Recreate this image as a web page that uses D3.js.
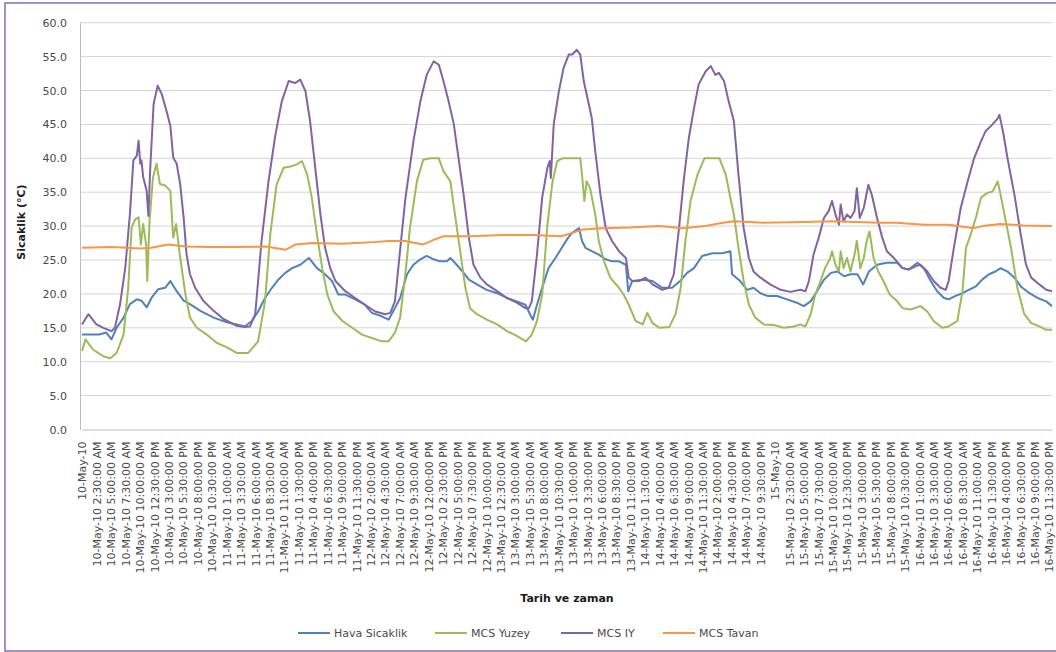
<!DOCTYPE html>
<html>
<head>
<meta charset="utf-8">
<script src="https://cdn.jsdelivr.net/npm/d3@7"></script>
<style>
  html, body { margin: 0; padding: 0; background: #ffffff; }
  svg { display: block; font-family: "DejaVu Sans", sans-serif; }
</style>
</head>
<body>
<svg id="chart" width="1056" height="652"></svg>
<script>
// Hours after 10-May-10 00:00, paired with temperature (°C)
const havaSicaklik = [
  [0,14.0],[1.5,14.0],[3.0,14.0],[4.2,14.3],[5.1,13.3],[6.0,15.0],[7.2,16.5],[8.3,18.5],[9.5,19.2],[10.3,19.0],
  [11.2,18.0],[12.1,19.5],[13.2,20.7],[14.4,20.9],[15.3,21.9],[16.4,20.4],[17.6,19.0],[18.7,18.5],[20.5,17.5],
  [22.8,16.5],[25.1,15.8],[26.8,15.5],[28.2,15.2],[29.4,16.0],[30.5,17.4],[31.7,19.4],[32.9,20.9],[34.0,22.1],
  [35.2,23.1],[36.4,23.8],[37.8,24.3],[39.3,25.3],[40.7,23.8],[42.1,22.9],[43.3,21.9],[44.4,19.9],[45.6,19.9],
  [47.3,19.2],[49.0,18.4],[50.2,17.2],[51.9,16.7],[53.1,16.2],[54.2,17.9],[55.1,19.4],[56.3,22.9],[57.4,24.3],
  [58.6,25.1],[59.7,25.6],[60.9,25.1],[62.0,24.8],[63.2,24.8],[63.8,25.3],[64.9,24.3],[66.1,23.1],[67.0,22.1],
  [68.4,21.4],[70.1,20.6],[71.9,20.1],[73.6,19.4],[75.3,18.9],[76.8,18.4],[77.6,17.0],[78.1,16.2],[78.8,18.4],
  [79.7,20.9],[80.8,23.8],[82.0,25.3],[83.1,26.8],[84.2,28.3],[84.9,29.0],[86.1,29.7],[86.6,27.8],[87.2,26.8],
  [88.3,26.3],[89.5,25.8],[90.7,25.1],[91.8,24.8],[93.0,24.8],[94.2,24.3],[94.6,20.4],[95.3,21.9],[97.1,22.1],
  [98.8,21.9],[100.5,20.9],[102.2,20.9],[103.6,21.9],[104.8,23.1],[106.0,23.8],[107.4,25.6],[109.2,26.0],
  [110.9,26.0],[112.3,26.3],[112.6,22.9],[114.0,21.9],[115.2,20.6],[116.3,20.9],[117.5,20.1],[118.7,19.7],
  [120.4,19.7],[122.1,19.2],[123.8,18.7],[125.0,18.2],[126.2,18.9],[127.3,20.4],[128.5,22.1],[129.7,23.1],
  [130.8,23.3],[132.0,22.6],[133.1,22.9],[134.3,22.9],[135.3,21.4],[136.3,23.3],[137.7,24.3],[139.4,24.6],
  [141.2,24.6],[142.1,23.8],[143.2,23.6],[144.7,24.6],[145.8,23.8],[147.0,21.9],[148.1,20.4],[149.3,19.4],
  [150.1,19.2],[151.3,19.7],[152.5,20.1],[153.6,20.6],[154.8,21.1],[155.9,22.1],[157.1,22.9],[158.2,23.3],
  [159.1,23.8],[160.3,23.3],[161.5,22.4],[162.6,21.1],[164.1,20.1],[165.5,19.4],[167.0,18.9],[168.0,18.2]
];

const mcsYuzey = [
  [0,11.6],[0.6,13.3],[1.9,11.8],[3.7,10.8],[4.9,10.5],[6.0,11.3],[7.2,14.0],[8.0,20.9],[8.6,29.8],[9.2,31.0],
  [9.8,31.3],[10.2,27.3],[10.6,30.3],[11.1,27.3],[11.3,21.9],[11.7,30.8],[12.3,37.2],[12.9,39.2],[13.5,36.2],
  [14.4,36.0],[15.3,35.2],[15.8,28.3],[16.3,30.3],[17.0,25.4],[17.9,20.0],[18.7,16.5],[19.9,15.0],[21.6,14.0],
  [23.3,12.8],[25.1,12.1],[26.8,11.3],[28.8,11.3],[30.5,13.0],[31.7,18.9],[32.6,28.7],[33.7,36.1],[34.9,38.6],
  [36.1,38.8],[37.2,39.1],[38.1,39.6],[39.0,37.6],[39.8,34.2],[40.7,28.7],[41.6,23.8],[42.5,19.9],[43.6,17.4],
  [45.1,16.0],[46.8,15.0],[48.5,14.0],[50.2,13.5],[51.9,13.0],[53.1,13.0],[54.2,14.3],[55.1,16.5],[56.0,22.9],
  [56.8,29.7],[58.0,36.6],[59.1,39.8],[60.3,40.0],[61.8,40.0],[62.6,38.1],[63.8,36.6],[64.6,31.7],[65.5,26.3],
  [66.4,20.9],[67.2,17.9],[68.4,17.0],[70.1,16.2],[71.9,15.5],[73.6,14.5],[75.3,13.8],[76.9,13.0],[77.9,14.0],
  [78.8,16.0],[79.7,19.9],[80.6,30.2],[81.5,36.6],[82.3,39.6],[83.2,40.0],[86.3,40.0],[86.6,37.6],[87.0,33.7],
  [87.4,36.6],[88.0,35.6],[88.9,31.7],[89.5,27.8],[90.4,24.8],[91.5,22.4],[93.0,20.9],[93.8,19.9],[94.7,18.4],
  [95.9,16.0],[97.1,15.5],[97.9,17.2],[98.8,15.7],[100.0,15.0],[101.7,15.1],[102.8,17.0],[103.7,20.9],
  [104.5,27.8],[105.4,33.7],[106.6,37.6],[107.8,40.0],[110.4,40.0],[111.5,37.6],[112.4,33.7],[112.9,31.7],
  [113.7,26.8],[114.6,21.9],[115.5,18.4],[116.6,16.5],[118.1,15.5],[119.8,15.4],[121.5,15.0],[123.3,15.2],
  [124.4,15.5],[125.3,15.2],[126.2,17.0],[127.0,19.9],[127.9,21.9],[128.7,23.8],[129.6,25.3],[129.9,26.3],
  [130.5,24.3],[131.1,23.3],[131.4,26.3],[131.9,23.8],[132.5,25.3],[133.1,23.3],[133.8,25.8],[134.2,27.8],
  [134.8,23.8],[135.4,25.3],[135.9,27.8],[136.4,29.2],[137.1,25.3],[137.9,23.3],[138.8,21.9],[139.9,19.9],
  [141.2,18.9],[142.1,17.9],[143.5,17.7],[145.2,18.2],[146.4,17.4],[147.5,16.0],[149.0,15.0],[150.1,15.2],
  [151.6,16.0],[152.5,20.4],[153.1,26.8],[153.9,28.7],[154.8,31.2],[155.7,34.2],[156.8,34.9],[157.7,35.1],
  [158.6,36.6],[159.1,34.6],[160.0,30.7],[160.9,26.8],[162.0,20.9],[163.2,17.0],[164.4,15.7],[165.8,15.2],
  [167.0,14.7],[168.0,14.7]
];

const mcsIY = [
  [0,15.5],[1.1,17.0],[2.5,15.5],[3.7,15.0],[5.1,14.5],[5.7,15.0],[6.6,18.5],[7.5,23.9],[8.3,31.8],[8.9,39.7],
  [9.5,40.4],[9.8,42.6],[10.1,39.2],[10.3,39.7],[10.6,37.2],[11.2,35.2],[11.5,31.5],[11.8,38.2],[12.4,48.0],
  [13.1,50.7],[13.8,49.5],[14.7,46.8],[15.3,44.8],[15.8,40.1],[16.4,39.2],[17.0,36.2],[17.6,31.3],[18.1,25.9],
  [18.7,22.9],[19.6,20.9],[21.0,19.0],[22.8,17.5],[24.5,16.3],[26.8,15.3],[28.2,15.1],[29.1,15.2],[30.0,17.0],
  [31.1,27.8],[32.3,36.6],[33.5,43.5],[34.6,48.4],[35.8,51.4],[36.9,51.1],[37.8,51.6],[38.7,49.9],[39.5,45.5],
  [40.4,38.6],[41.3,31.7],[42.1,26.8],[43.0,23.8],[43.9,21.9],[45.6,20.4],[47.3,19.4],[49.0,18.4],[50.8,17.4],
  [52.5,17.0],[53.4,17.2],[54.2,18.9],[55.1,26.5],[56.0,34.0],[57.4,42.5],[58.6,48.4],[59.7,52.3],[60.9,54.3],
  [61.8,53.8],[62.6,51.4],[63.5,48.4],[64.4,45.0],[65.2,40.1],[66.1,34.6],[67.0,28.3],[67.8,24.3],[69.0,22.4],
  [70.1,21.4],[71.9,20.4],[73.6,19.4],[75.3,18.7],[76.8,17.9],[77.4,17.9],[77.9,18.9],[78.8,25.8],[79.7,34.2],
  [80.6,38.6],[81.0,39.6],[81.2,37.1],[81.7,45.0],[82.6,49.9],[83.4,53.3],[84.3,55.3],[84.9,55.3],[85.7,56.0],
  [86.3,55.3],[86.9,51.4],[87.8,47.9],[88.3,45.9],[88.9,41.0],[89.8,34.6],[90.7,29.7],[91.8,27.8],[93.0,26.3],
  [94.2,25.3],[94.7,22.4],[95.3,21.9],[96.5,21.9],[97.6,22.4],[98.8,21.4],[100.5,20.6],[101.6,20.9],[102.5,22.9],
  [103.4,29.7],[104.2,36.6],[105.1,43.0],[106.0,47.4],[106.8,50.9],[108.0,52.8],[108.9,53.6],[109.7,52.3],
  [110.3,52.6],[111.2,51.4],[112.0,48.4],[112.9,45.5],[113.7,37.6],[114.6,29.7],[115.5,25.3],[116.3,23.3],
  [117.5,22.4],[119.2,21.4],[121.0,20.6],[122.7,20.3],[124.4,20.6],[125.3,20.4],[125.9,21.9],[126.7,25.8],
  [127.6,28.3],[128.5,31.2],[129.3,32.2],[129.9,33.7],[130.5,31.7],[131.1,30.2],[131.4,33.2],[131.9,30.7],
  [132.5,31.7],[133.1,31.2],[133.8,32.2],[134.2,35.6],[134.7,31.2],[135.4,32.7],[136.2,36.1],[136.8,34.6],
  [137.7,31.2],[138.6,28.3],[139.4,26.3],[140.6,25.3],[142.1,23.8],[143.2,23.6],[144.4,24.1],[145.2,24.3],
  [146.4,23.3],[147.5,21.9],[148.7,20.9],[149.6,20.6],[150.1,21.9],[151.0,26.8],[152.2,32.7],[153.4,36.6],
  [154.5,40.0],[155.7,42.5],[156.5,44.0],[157.7,45.0],[158.6,45.9],[158.9,46.4],[159.5,44.0],[160.3,40.0],
  [161.5,34.6],[162.6,28.7],[163.5,24.3],[164.4,22.4],[165.8,21.4],[167.0,20.6],[168.0,20.4]
];

const mcsTavan = [
  [0,26.8],[5,26.9],[10,26.7],[12,26.8],[15,27.3],[18,27.0],[22,26.9],[26.5,26.9],[32,27.0],[35.2,26.5],
  [37,27.3],[40,27.5],[45,27.4],[50,27.6],[53,27.8],[56,27.8],[59.1,27.3],[61,28.0],[62.6,28.5],[67,28.5],
  [73,28.7],[78,28.7],[83,28.5],[84.9,29.0],[86.7,29.5],[90,29.7],[95,29.8],[100,30.0],[104,29.7],[108,30.0],
  [111,30.5],[113,30.7],[118,30.5],[125,30.6],[130,30.7],[134,30.6],[138,30.5],[141,30.5],[146,30.2],[150,30.2],
  [154.5,29.7],[156,30.0],[159,30.3],[163,30.1],[168,30.0]
];

const seriesNames = ["Hava Sicaklik", "MCS Yuzey", "MCS IY", "MCS Tavan"];
const seriesColors = ["#4f81bd", "#9bbb59", "#8064a2", "#f79646"];

const yTicks = [0, 5, 10, 15, 20, 25, 30, 35, 40, 45, 50, 55, 60];

// One category label every 2.5 hours
const xTickLabels = [
  "10-May-10", "10-May-10 2:30:00 AM", "10-May-10 5:00:00 AM", "10-May-10 7:30:00 AM",
  "10-May-10 10:00:00 AM", "10-May-10 12:30:00 PM", "10-May-10 3:00:00 PM", "10-May-10 5:30:00 PM",
  "10-May-10 8:00:00 PM", "10-May-10 10:30:00 PM", "11-May-10 1:00:00 AM", "11-May-10 3:30:00 AM",
  "11-May-10 6:00:00 AM", "11-May-10 8:30:00 AM", "11-May-10 11:00:00 AM", "11-May-10 1:30:00 PM",
  "11-May-10 4:00:00 PM", "11-May-10 6:30:00 PM", "11-May-10 9:00:00 PM", "11-May-10 11:30:00 PM",
  "12-May-10 2:00:00 AM", "12-May-10 4:30:00 AM", "12-May-10 7:00:00 AM", "12-May-10 9:30:00 AM",
  "12-May-10 12:00:00 PM", "12-May-10 2:30:00 PM", "12-May-10 5:00:00 PM", "12-May-10 7:30:00 PM",
  "12-May-10 10:00:00 PM", "13-May-10 12:30:00 AM", "13-May-10 3:00:00 AM", "13-May-10 5:30:00 AM",
  "13-May-10 8:00:00 AM", "13-May-10 10:30:00 AM", "13-May-10 1:00:00 PM", "13-May-10 3:30:00 PM",
  "13-May-10 6:00:00 PM", "13-May-10 8:30:00 PM", "13-May-10 11:00:00 PM", "14-May-10 1:30:00 AM",
  "14-May-10 4:00:00 AM", "14-May-10 6:30:00 AM", "14-May-10 9:00:00 AM", "14-May-10 11:30:00 AM",
  "14-May-10 2:00:00 PM", "14-May-10 4:30:00 PM", "14-May-10 7:00:00 PM", "14-May-10 9:30:00 PM",
  "15-May-10", "15-May-10 2:30:00 AM", "15-May-10 5:00:00 AM", "15-May-10 7:30:00 AM",
  "15-May-10 10:00:00 AM", "15-May-10 12:30:00 PM", "15-May-10 3:00:00 PM", "15-May-10 5:30:00 PM",
  "15-May-10 8:00:00 PM", "15-May-10 10:30:00 PM", "16-May-10 1:00:00 AM", "16-May-10 3:30:00 AM",
  "16-May-10 6:00:00 AM", "16-May-10 8:30:00 AM", "16-May-10 11:00:00 AM", "16-May-10 1:30:00 PM",
  "16-May-10 4:00:00 PM", "16-May-10 6:30:00 PM", "16-May-10 9:00:00 PM", "16-May-10 11:30:00 PM"
];
const tickStepHours = 2.5;

const svg = d3.select("#chart");
const W = 1056, H = 652;
const plot = { left: 80, right: 1052, top: 22.7, bottom: 429.5 };

svg.append("rect").attr("width", W).attr("height", H).attr("fill", "#ffffff");

const x = d3.scaleLinear().domain([0, 168]).range([plot.left + 2, plot.right]);
const y = d3.scaleLinear().domain([0, 60]).range([plot.bottom, plot.top]);

// Horizontal gridlines
svg.append("g")
  .selectAll("line")
  .data(yTicks.filter(t => t > 0))
  .join("line")
  .attr("x1", plot.left).attr("x2", plot.right)
  .attr("y1", d => y(d)).attr("y2", d => y(d))
  .attr("stroke", "#d4d4d4").attr("stroke-width", 1);

// Y axis
const yAxis = svg.append("g")
  .attr("transform", `translate(${plot.left},0)`)
  .call(d3.axisLeft(y).tickValues(yTicks).tickFormat(d3.format(".1f")).tickSize(0).tickPadding(13));
yAxis.select(".domain").attr("stroke", "#bcbcbc");
yAxis.selectAll("text").attr("font-size", 11).attr("fill", "#4a4a4a").attr("font-family", "DejaVu Sans, sans-serif");

// X axis with rotated category labels
const xAxis = svg.append("g")
  .attr("transform", `translate(0,${plot.bottom})`)
  .call(d3.axisBottom(x)
    .tickValues(xTickLabels.map((_, i) => i * tickStepHours))
    .tickFormat((d, i) => xTickLabels[i])
    .tickSize(0));
xAxis.select(".domain").attr("stroke", "#bcbcbc");
xAxis.selectAll("text")
  .attr("font-size", 11)
  .attr("fill", "#4a4a4a")
  .attr("font-family", "DejaVu Sans, sans-serif")
  .attr("text-anchor", "end")
  .attr("y", 0)
  .attr("dy", "0.35em")
  .attr("transform", "translate(0,12) rotate(-90)");

// Series lines
const line = d3.line().x(d => x(d[0])).y(d => y(d[1]));
const allSeries = [havaSicaklik, mcsYuzey, mcsIY, mcsTavan];
svg.append("g")
  .selectAll("path")
  .data(allSeries)
  .join("path")
  .attr("d", d => line(d))
  .attr("fill", "none")
  .attr("stroke", (d, i) => seriesColors[i])
  .attr("stroke-width", 2)
  .attr("stroke-linejoin", "round");

// Axis titles
svg.append("text")
  .attr("transform", "translate(25,222) rotate(-90)")
  .attr("text-anchor", "middle")
  .attr("font-size", 11).attr("font-weight", "bold").attr("fill", "#1a1a1a")
  .text("Sicaklik (°C)");

svg.append("text")
  .attr("x", 567).attr("y", 602)
  .attr("text-anchor", "middle")
  .attr("font-size", 11).attr("font-weight", "bold").attr("fill", "#1a1a1a")
  .text("Tarih ve zaman");

// Legend
const legendX = [298, 435, 561, 663];
const legend = svg.append("g");
seriesNames.forEach((name, i) => {
  const g = legend.append("g").attr("transform", `translate(${legendX[i]},633)`);
  g.append("line").attr("x1", 0).attr("x2", 32).attr("y1", 0).attr("y2", 0)
    .attr("stroke", seriesColors[i]).attr("stroke-width", 2);
  g.append("text").attr("x", 36).attr("y", 4)
    .attr("font-size", 11).attr("fill", "#4a4a4a")
    .text(name);
});

// Outer frame
svg.append("rect")
  .attr("x", 5).attr("y", 3).attr("width", 1060).attr("height", 648)
  .attr("fill", "none").attr("stroke", "#8a6bb8").attr("stroke-width", 1.5);
</script>
</body>
</html>
